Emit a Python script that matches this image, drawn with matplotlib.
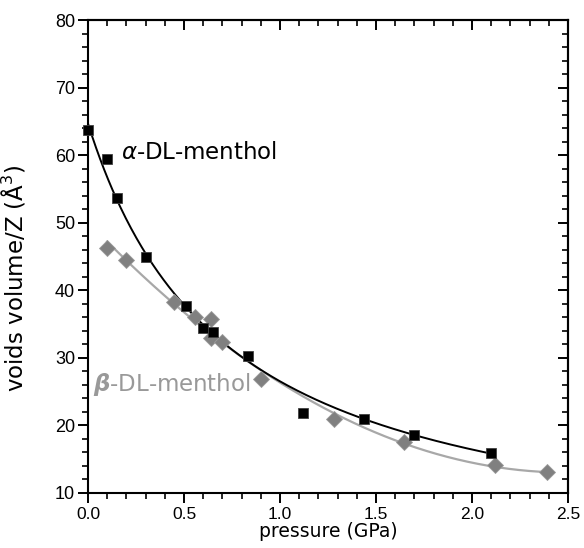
import numpy as np
import matplotlib
matplotlib.use("Agg")
import matplotlib.pyplot as plt
from matplotlib.ticker import MultipleLocator, FormatStrFormatter

# Void volume per formula unit vs pressure
alpha_p = [0.00, 0.10, 0.15, 0.30, 0.51, 0.60, 0.65, 0.835, 1.12, 1.44, 1.70, 2.10]
alpha_v = [63.7, 59.5, 53.7, 44.9, 37.7, 34.4, 33.8, 30.3, 21.9, 20.9, 18.6, 15.9]

beta_p = [0.10, 0.20, 0.45, 0.557, 0.643, 0.643, 0.70, 0.90, 1.28, 1.647, 2.12, 2.39]
beta_v = [46.2, 44.5, 38.3, 36.0, 35.8, 32.9, 32.3, 26.8, 20.9, 17.5, 14.1, 13.1]

x_ticks = [0.0, 0.5, 1.0, 1.5, 2.0, 2.5]
y_ticks = [10, 20, 30, 40, 50, 60, 70, 80]


def robust_power_fit(p, v, n_iter=8):
    """Huber-weighted fit of ln v = ln a - c*ln(1 + b*p); b, c by grid, ln a linear."""
    p = np.asarray(p, float)
    y = np.log(np.asarray(v, float))
    bs = np.geomspace(0.05, 50, 200)
    cs = np.linspace(0.05, 6, 200)
    w = np.ones_like(p)
    for _ in range(n_iter):
        best = None
        for b in bs:
            L = np.log1p(b * p)
            for c in cs:
                g = y + c * L
                la = np.sum(w * g) / np.sum(w)
                r = y - (la - c * L)
                res = np.sum(w * r ** 2)
                if best is None or res < best[0]:
                    best = (res, la, b, c)
        _, la, b, c = best
        r = y - (la - c * np.log1p(b * p))
        s = 1.4826 * np.median(np.abs(r - np.median(r))) + 1e-9
        k = 1.345 * s
        w = np.where(np.abs(r) <= k, 1.0, k / np.abs(r))
    return lambda x: np.exp(la - c * np.log1p(b * np.asarray(x)))


fit_a = robust_power_fit(alpha_p, alpha_v)
fit_b = np.poly1d(np.polyfit(beta_p, beta_v, 2))

fig = plt.figure(figsize=(5.84, 5.48), dpi=100)
ax = fig.add_axes([0.1507, 0.1004, 0.8219, 0.8631])

xa = np.linspace(min(alpha_p), max(alpha_p), 300)
xb = np.linspace(min(beta_p), max(beta_p), 300)
ax.plot(xb, fit_b(xb), color="#a8a8a8", lw=1.6, zorder=2)
ax.plot(xa, fit_a(xa), color="black", lw=1.4, zorder=3)

ax.plot(beta_p, beta_v, linestyle="none", marker="D", ms=8.4,
        mfc="#808080", mec="#9a9a9a", mew=0.6, zorder=4, clip_on=False)
ax.plot(alpha_p, alpha_v, linestyle="none", marker="s", ms=7.8,
        mfc="black", mec="#404040", mew=0.6, zorder=5, clip_on=False)

ax.set_xlim(0, 2.5)
ax.set_ylim(10, 80)
ax.set_xticks(x_ticks)
ax.set_yticks(y_ticks)
ax.xaxis.set_minor_locator(MultipleLocator(0.1))
ax.yaxis.set_minor_locator(MultipleLocator(2))
ax.xaxis.set_major_formatter(FormatStrFormatter("%.1f"))

for s in ax.spines.values():
    s.set_linewidth(1.5)

ax.tick_params(which="major", direction="out", length=7.2, width=1.4,
               top=False, right=False)
ax.tick_params(which="minor", direction="out", length=4.5, width=1.2,
               top=False, right=False)
ax.tick_params(axis="y", labelsize=13, pad=2)
ax.tick_params(axis="x", labelsize=12.5, pad=3)
for lab in ax.get_yticklabels():
    lab.set_family(["Liberation Sans", "DejaVu Sans"])
for lab in ax.get_xticklabels():
    lab.set_family(["Liberation Sans Narrow", "Liberation Sans", "DejaVu Sans"])

# Inward ticks on top and right edges
top = ax.secondary_xaxis("top")
top.set_xticks(x_ticks)
top.xaxis.set_minor_locator(MultipleLocator(0.1))
top.tick_params(which="major", direction="in", length=7, width=1.4, labeltop=False)
top.tick_params(which="minor", direction="in", length=4.5, width=1.2)
top.spines["top"].set_linewidth(1.5)

right = ax.secondary_yaxis("right")
right.set_yticks(y_ticks)
right.yaxis.set_minor_locator(MultipleLocator(2))
right.tick_params(which="major", direction="in", length=7, width=1.4, labelright=False)
right.tick_params(which="minor", direction="in", length=4.5, width=1.2)
right.spines["right"].set_linewidth(1.5)

ax.set_xlabel("pressure (GPa)", fontsize=13.5, labelpad=0)
ax.set_ylabel("voids volume/Z (Å$^3$)", fontsize=16.5)
ax.yaxis.set_label_coords(-0.127, 0.453)

ax.text(0.172, 60.4, r"$\alpha$-DL-menthol", fontsize=16.5, color="black",
        va="center", ha="left")
ax.text(0.024, 26.0, r"$\mathbfit{\beta}$-DL-menthol",
        fontsize=16.5, color="#999999", va="center", ha="left")

fig.savefig("out.png", dpi=100)
